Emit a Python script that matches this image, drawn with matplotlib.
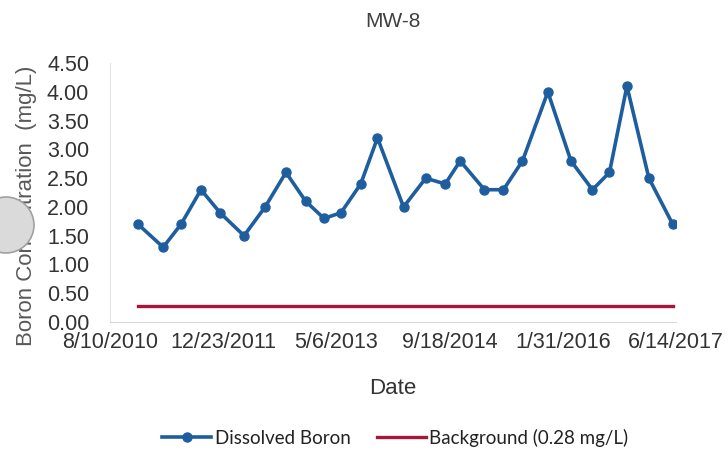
import matplotlib
matplotlib.use('Agg')
import matplotlib.pyplot as plt
import matplotlib.dates as mdates
from matplotlib.patches import Ellipse
import numpy as np
import pandas as pd

# sample dates and dissolved boron results for well MW-8 (mg/L)
sample_dates = [
	'2010-12-12', '2011-04-02', '2011-06-20', '2011-09-16', '2011-12-09',
	'2012-03-24', '2012-06-25', '2012-09-25', '2012-12-21', '2013-03-12',
	'2013-05-26', '2013-08-21', '2013-11-03', '2014-02-26', '2014-06-04',
	'2014-08-29', '2014-11-03', '2015-02-18', '2015-05-13', '2015-08-05',
	'2015-11-25', '2016-03-06', '2016-06-09', '2016-08-23', '2016-11-08',
	'2017-02-13', '2017-05-29',
]
boron = [
	1.7, 1.3, 1.7, 2.3, 1.9,
	1.5, 2.0, 2.6, 2.1, 1.8,
	1.9, 2.4, 3.2, 2.0, 2.5,
	2.4, 2.8, 2.3, 2.3, 2.8,
	4.0, 2.8, 2.3, 2.6, 4.1,
	2.5, 1.7,
]
background = 0.28

tick_dates = ['2010-08-10', '2011-12-23', '2013-05-06', '2014-09-18', '2016-01-31', '2017-06-14']
y_ticks = [0.0, 0.5, 1.0, 1.5, 2.0, 2.5, 3.0, 3.5, 4.0, 4.5]

BLUE = '#1f5e9e'
RED = '#a8173a'
GRAY = '#595959'

plt.rcParams['font.family'] = ['Liberation Sans', 'DejaVu Sans']

t = pd.to_datetime(sample_dates)
ticks = pd.to_datetime(tick_dates)

fig = plt.figure(figsize=(7.28, 4.51), dpi=100)
ax = fig.add_axes([0.151, 0.286, 0.778, 0.574])

ax.plot(t, boron, '-o', color=BLUE, lw=2.6, markersize=6.5, label='Dissolved Boron', zorder=3)
ax.plot([t[0], t[-1]], [background, background], '-', color=RED, lw=2.4,
	label='Background (0.28 mg/L)', zorder=2)

ax.set_xlim(ticks[0], ticks[-1])
ax.set_ylim(0, 4.5)
ax.set_xticks(ticks)
ax.xaxis.set_major_formatter(mdates.DateFormatter('%-m/%-d/%Y'))
ax.set_yticks(y_ticks)
ax.set_yticklabels([f'{v:.2f}' for v in y_ticks])
ax.tick_params(axis='both', length=0, labelsize=15.5, labelcolor='#333333')
ax.tick_params(axis='x', pad=7)
ax.tick_params(axis='y', pad=15)

for s in ['top', 'right']:
	ax.spines[s].set_visible(False)
ax.spines['left'].set_color('#e4e4e4')
ax.spines['bottom'].set_color('#d9d9d9')

ax.set_title('MW-8', fontsize=15, color='#404040', pad=26)
ax.set_xlabel('Date', fontsize=16, color='#333333', labelpad=18)
ax.set_ylabel('Boron Concentration  (mg/L)', fontsize=16, color=GRAY)
ax.yaxis.set_label_coords(-0.128, 0.448)

leg = fig.legend(loc='center', bbox_to_anchor=(0.543, 0.03), ncol=2, frameon=False,
	prop={'family': 'Lato', 'size': 13.5}, handlelength=2.6, columnspacing=1.4,
	handletextpad=0.2)
for txt in leg.get_texts():
	txt.set_color('#222222')

# grey disc covering part of the axis title
fig.patches.append(Ellipse((6, 451 - 225), 56, 56, transform=None,
	facecolor='#dadada', edgecolor='#a0a0a0', lw=1.2, zorder=10))

fig.savefig('out.png', dpi=100)
